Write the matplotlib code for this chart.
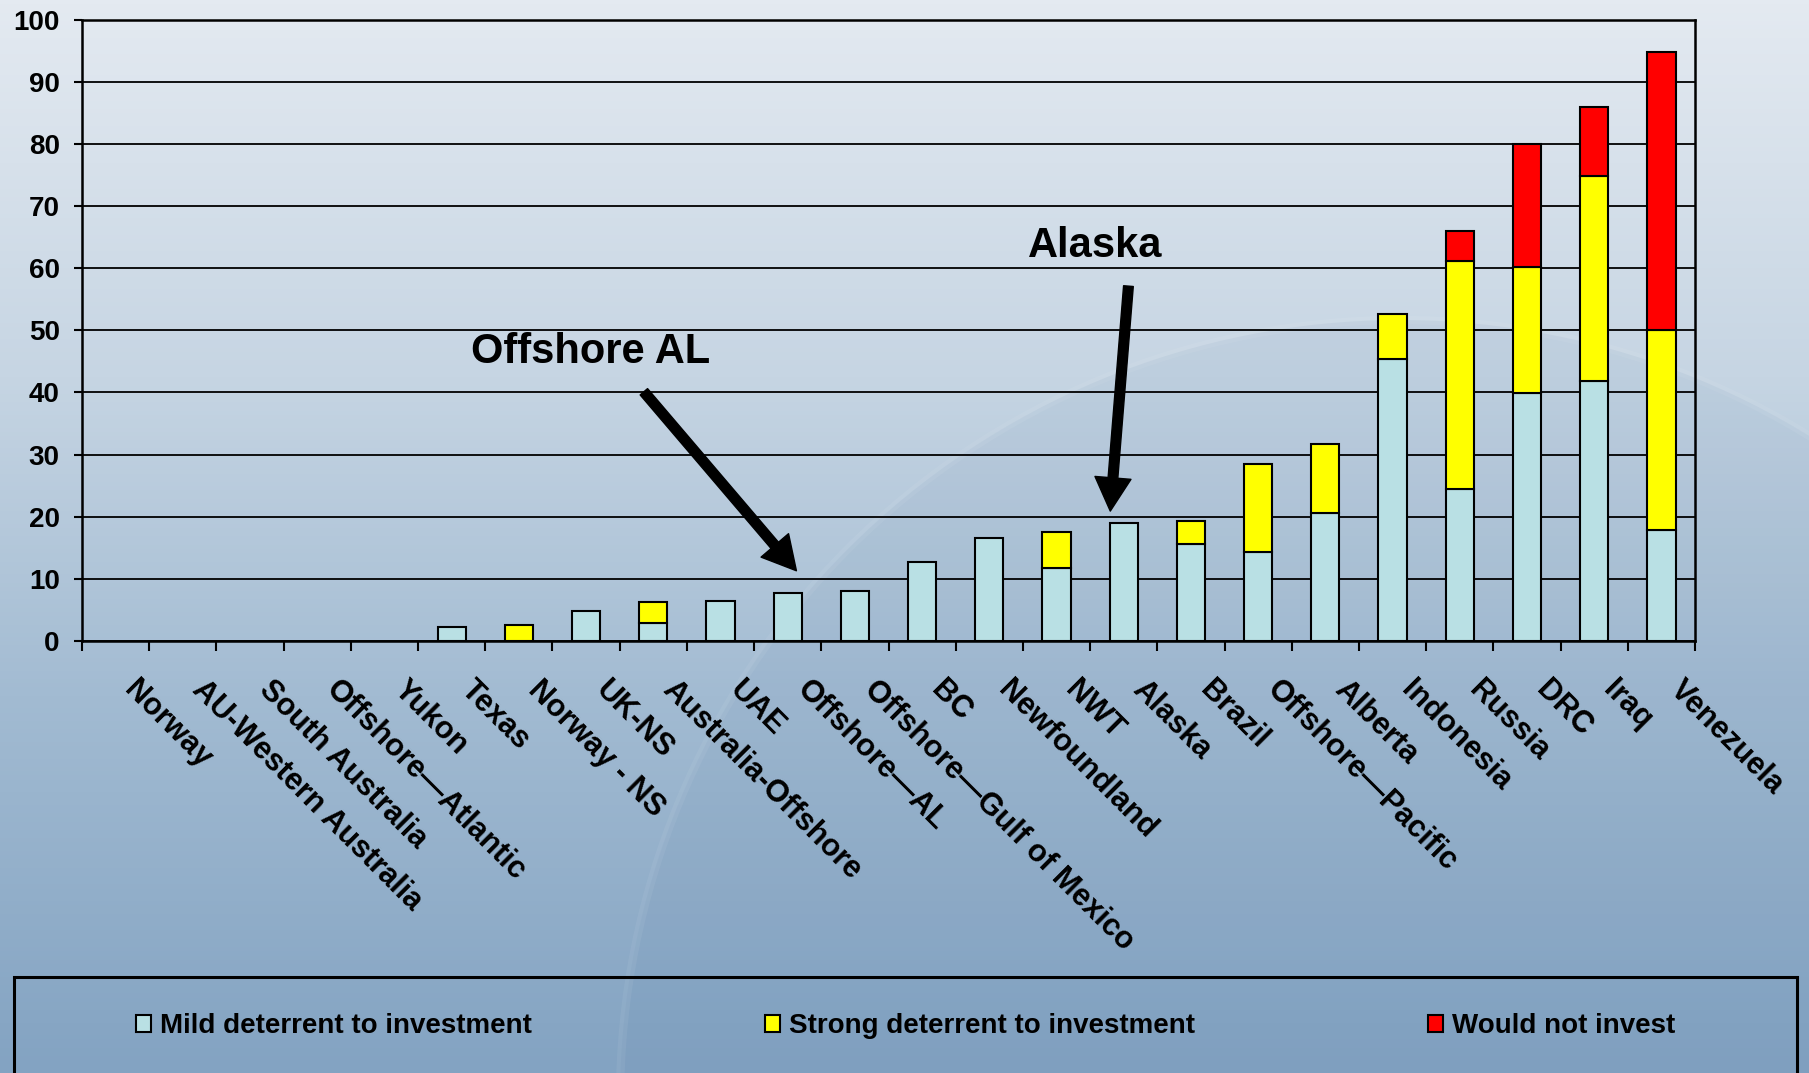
import numpy as np
import matplotlib
matplotlib.use('Agg')
import matplotlib.pyplot as plt
from matplotlib.patches import Rectangle, Circle, Patch
from matplotlib.colors import LinearSegmentedColormap
import matplotlib.transforms as mtransforms

plt.rcParams['font.family'] = ['Liberation Sans', 'DejaVu Sans']
plt.rcParams['font.weight'] = 'bold'

regions = ['Norway', 'AU-Western Australia', 'South Australia', 'Offshore\u2014Atlantic',
           'Yukon', 'Texas', 'Norway - NS', 'UK-NS', 'Australia-Offshore', 'UAE',
           'Offshore\u2014AL', 'Offshore\u2014Gulf of Mexico', 'BC', 'Newfoundland', 'NWT',
           'Alaska', 'Brazil', 'Offshore\u2014Pacific', 'Alberta', 'Indonesia', 'Russia',
           'DRC', 'Iraq', 'Venezuela']
mild = [0, 0, 0, 0, 0, 2.2, 0, 4.9, 2.9, 6.5, 7.8, 8.1, 12.7, 16.6, 11.7,
        19.0, 15.6, 14.4, 20.6, 45.4, 24.4, 39.9, 41.8, 17.9]
strong = [0, 0, 0, 0, 0, 0, 2.6, 0, 3.3, 0, 0, 0, 0, 0, 5.9,
          0, 3.7, 14.0, 11.1, 7.2, 36.7, 20.2, 33.0, 32.1]
wouldnot = [0, 0, 0, 0, 0, 0, 0, 0, 0, 0, 0, 0, 0, 0, 0,
            0, 0, 0, 0, 0, 4.9, 19.9, 11.1, 44.8]
legend_labels = ['Mild deterrent to investment', 'Strong deterrent to investment', 'Would not invest']
colors = ['#b9e0e4', '#ffff00', '#ff0000']

W, H = 1809, 1073
fig = plt.figure(figsize=(W / 100, H / 100), dpi=100)

# background gradient with a faint globe
bg = fig.add_axes([0, 0, 1, 1], zorder=-10)
cmap = LinearSegmentedColormap.from_list('bg', [(0.0, '#e4eaf1'), (0.35, '#c6d5e3'),
                                                (0.65, '#a2bbd2'), (1.0, '#83a3c2')])
grad = np.linspace(0, 1, 256).reshape(-1, 1)
bg.imshow(grad, aspect='auto', cmap=cmap, extent=[0, W, H, 0])
bg.add_patch(Circle((1400, 1100), 780, facecolor=(0.3, 0.45, 0.62, 0.07),
                    edgecolor=(1, 1, 1, 0.06), lw=6))
bg.set_xlim(0, W)
bg.set_ylim(H, 0)
bg.axis('off')

ax = fig.add_axes([82 / W, 1 - 641 / H, (1695 - 82) / W, (641 - 19.5) / H])
ax.set_facecolor('none')

x = np.arange(len(regions))
mild = np.array(mild)
strong = np.array(strong)
wouldnot = np.array(wouldnot)
bw = 0.42
kw = dict(width=bw, edgecolor='black', linewidth=1.5, zorder=3)
bottom = np.zeros(len(regions))
for vals, c in zip([mild, strong, wouldnot], colors):
    m = vals > 0
    ax.bar(x[m], vals[m], bottom=bottom[m], color=c, **kw)
    bottom = bottom + vals

ax.set_xlim(-0.5, len(regions) - 0.5)
ax.set_ylim(0, 100)
ax.set_yticks(np.arange(0, 101, 10))
ax.yaxis.grid(True, color='black', lw=1.3, zorder=1)
ax.set_axisbelow(True)
for s in ax.spines.values():
    s.set_linewidth(1.8)
    s.set_zorder(4)
ax.tick_params(axis='y', length=6, width=1.5, pad=10, labelsize=20)

ax.set_xticks(x)
ax.set_xticks(np.arange(-0.5, len(regions), 1), minor=True)
ax.tick_params(axis='x', which='major', length=0, pad=24)
ax.tick_params(axis='x', which='minor', length=7, width=1.5)
ax.set_xticklabels(regions, rotation=-45, ha='left', va='top',
                   rotation_mode='anchor', fontsize=22)
offset = mtransforms.ScaledTranslation(24 / 100, 0, fig.dpi_scale_trans)
for lab in ax.get_xticklabels():
    lab.set_transform(lab.get_transform() + offset)

# callouts
i_al = regions.index('Offshore\u2014AL')
i_ak = regions.index('Alaska')
arrow = dict(facecolor='black', edgecolor='black', width=7, headwidth=26, headlength=24)
ax.annotate('', xy=(i_al + 0.13, mild[i_al] + 3.5), xytext=(i_al - 2.14, 40.1),
            arrowprops=arrow, zorder=6)
ax.annotate('', xy=(i_ak - 0.2, mild[i_ak] + 1.9), xytext=(i_ak + 0.07, 57.1),
            arrowprops=arrow, zorder=6)
ax.text(i_al - 2.94, 46.5, 'Offshore AL', fontsize=30, ha='center', va='center', zorder=6)
ax.text(i_ak - 0.43, 63.6, 'Alaska', fontsize=30, ha='center', va='center', zorder=6)

# legend box along the bottom
fig.patches.append(Rectangle((14 / W, -0.05), (1797 - 14) / W, 0.05 + (1073 - 977) / H,
                             transform=fig.transFigure, facecolor='none',
                             edgecolor='black', lw=2.2))
handles = [Patch(facecolor=c, edgecolor='black', lw=1.5) for c in colors]
fig.legend(handles, legend_labels, loc='center left', ncol=3, mode='expand', frameon=False,
           bbox_to_anchor=(136 / W, (1073 - 1026) / H, (1675 - 136) / W, 0.0),
           fontsize=20, handlelength=0.55, handleheight=0.55, handletextpad=0.3,
           borderaxespad=0, borderpad=0)

fig.savefig('out.png', dpi=100)
